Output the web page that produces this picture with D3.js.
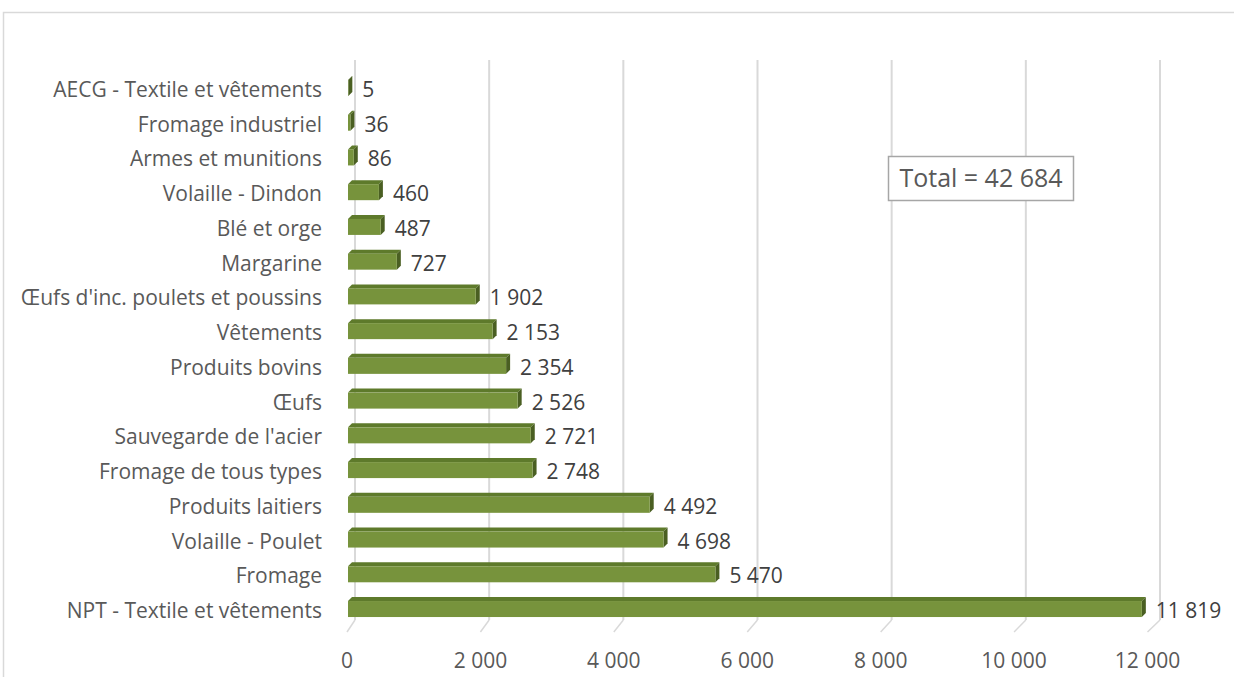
<!DOCTYPE html>
<html><head><meta charset="utf-8">
<script src="https://cdn.jsdelivr.net/npm/d3@7"></script>
<style>body{margin:0;background:#fff}svg{display:block}</style>
</head><body>
<svg id="c" width="1234" height="677"></svg>
<script>
const categories = ["AECG - Textile et vêtements","Fromage industriel","Armes et munitions","Volaille - Dindon","Blé et orge","Margarine","Œufs d'inc. poulets et poussins","Vêtements","Produits bovins","Œufs","Sauvegarde de l'acier","Fromage de tous types","Produits laitiers","Volaille - Poulet","Fromage","NPT - Textile et vêtements"];
const values = [5,36,86,460,487,727,1902,2153,2354,2526,2721,2748,4492,4698,5470,11819];
const ticks = [0,2000,4000,6000,8000,10000,12000];
const totalLabel = "Total = 42 684";

const svg = d3.select("#c");
const font = "'Open Sans', sans-serif";
const loc = d3.formatLocale({decimal:",",thousands:" ",grouping:[3],currency:["","€"]});
const fmt = loc.format(",d");

// chart border
svg.append("rect").attr("x",3.5).attr("y",12.5).attr("width",1260).attr("height",700)
  .attr("fill","#fff").attr("stroke","#d9d9d9").attr("stroke-width",1.5);

const x = d3.scaleLinear().domain([0,12000]).range([348,1154]);      // bars (mid depth)
const xg = d3.scaleLinear().domain([0,12000]).range([355,1160]);     // back wall gridlines
const xf = d3.scaleLinear().domain([0,12000]).range([347,1147.5]);   // front floor / tick labels
const y = d3.scaleBand().domain(categories).range([71.6,627.4]);
const dep = 4;
const barH = 16;

// gridlines on back wall + floor stubs
const g = svg.append("g");
ticks.forEach(t=>{
  g.append("line").attr("x1",xg(t)).attr("x2",xg(t)).attr("y1",60).attr("y2",620)
    .attr("stroke","#d9d9d9").attr("stroke-width",2);
  g.append("line").attr("x1",xg(t)).attr("x2",xf(t)).attr("y1",620).attr("y2",632)
    .attr("stroke","#d9d9d9").attr("stroke-width",1.5);
});

// x axis tick labels
svg.append("g").selectAll("text").data(ticks).join("text")
  .attr("x",d=>xf(d)).attr("y",668).attr("text-anchor","middle")
  .attr("font-family",font).attr("font-size",21).attr("fill","#595959")
  .text(d=>fmt(d));

// category labels
svg.append("g").selectAll("text").data(categories).join("text")
  .attr("x",322).attr("y",d=>y(d)+y.bandwidth()/2+8).attr("text-anchor","end")
  .attr("font-family",font).attr("font-size",21).attr("fill","#595959")
  .text(d=>d);

// 3D bars
const bars = svg.append("g");
categories.forEach((c,i)=>{
  const x0 = x(0), x1 = x(values[i]);
  const cy = y(c)+y.bandwidth()/2;
  const yt = cy - 9, yb = yt + barH;
  bars.append("polygon").attr("points",[[x0,yt],[x0+dep,yt-dep],[x1+dep,yt-dep],[x1,yt]].join(" "))
    .attr("fill","#5e7a2b");
  bars.append("polygon").attr("points",[[x1,yt],[x1+dep,yt-dep],[x1+dep,yb-dep],[x1,yb]].join(" "))
    .attr("fill","#4a5f22");
  bars.append("rect").attr("x",x0).attr("y",yt).attr("width",Math.max(0,x1-x0)).attr("height",barH)
    .attr("fill","#77933c");
  bars.append("text").attr("x",x1+dep+10).attr("y",cy+8)
    .attr("font-family",font).attr("font-size",21).attr("fill","#404040")
    .text(fmt(values[i]));
});

// total box
svg.append("rect").attr("x",888.5).attr("y",156.5).attr("width",185).attr("height",44)
  .attr("fill","#fff").attr("stroke","#a6a6a6").attr("stroke-width",1.5);
svg.append("text").attr("x",981).attr("y",187).attr("text-anchor","middle")
  .attr("font-family",font).attr("font-size",25).attr("fill","#595959").text(totalLabel);
</script>
</body></html>
